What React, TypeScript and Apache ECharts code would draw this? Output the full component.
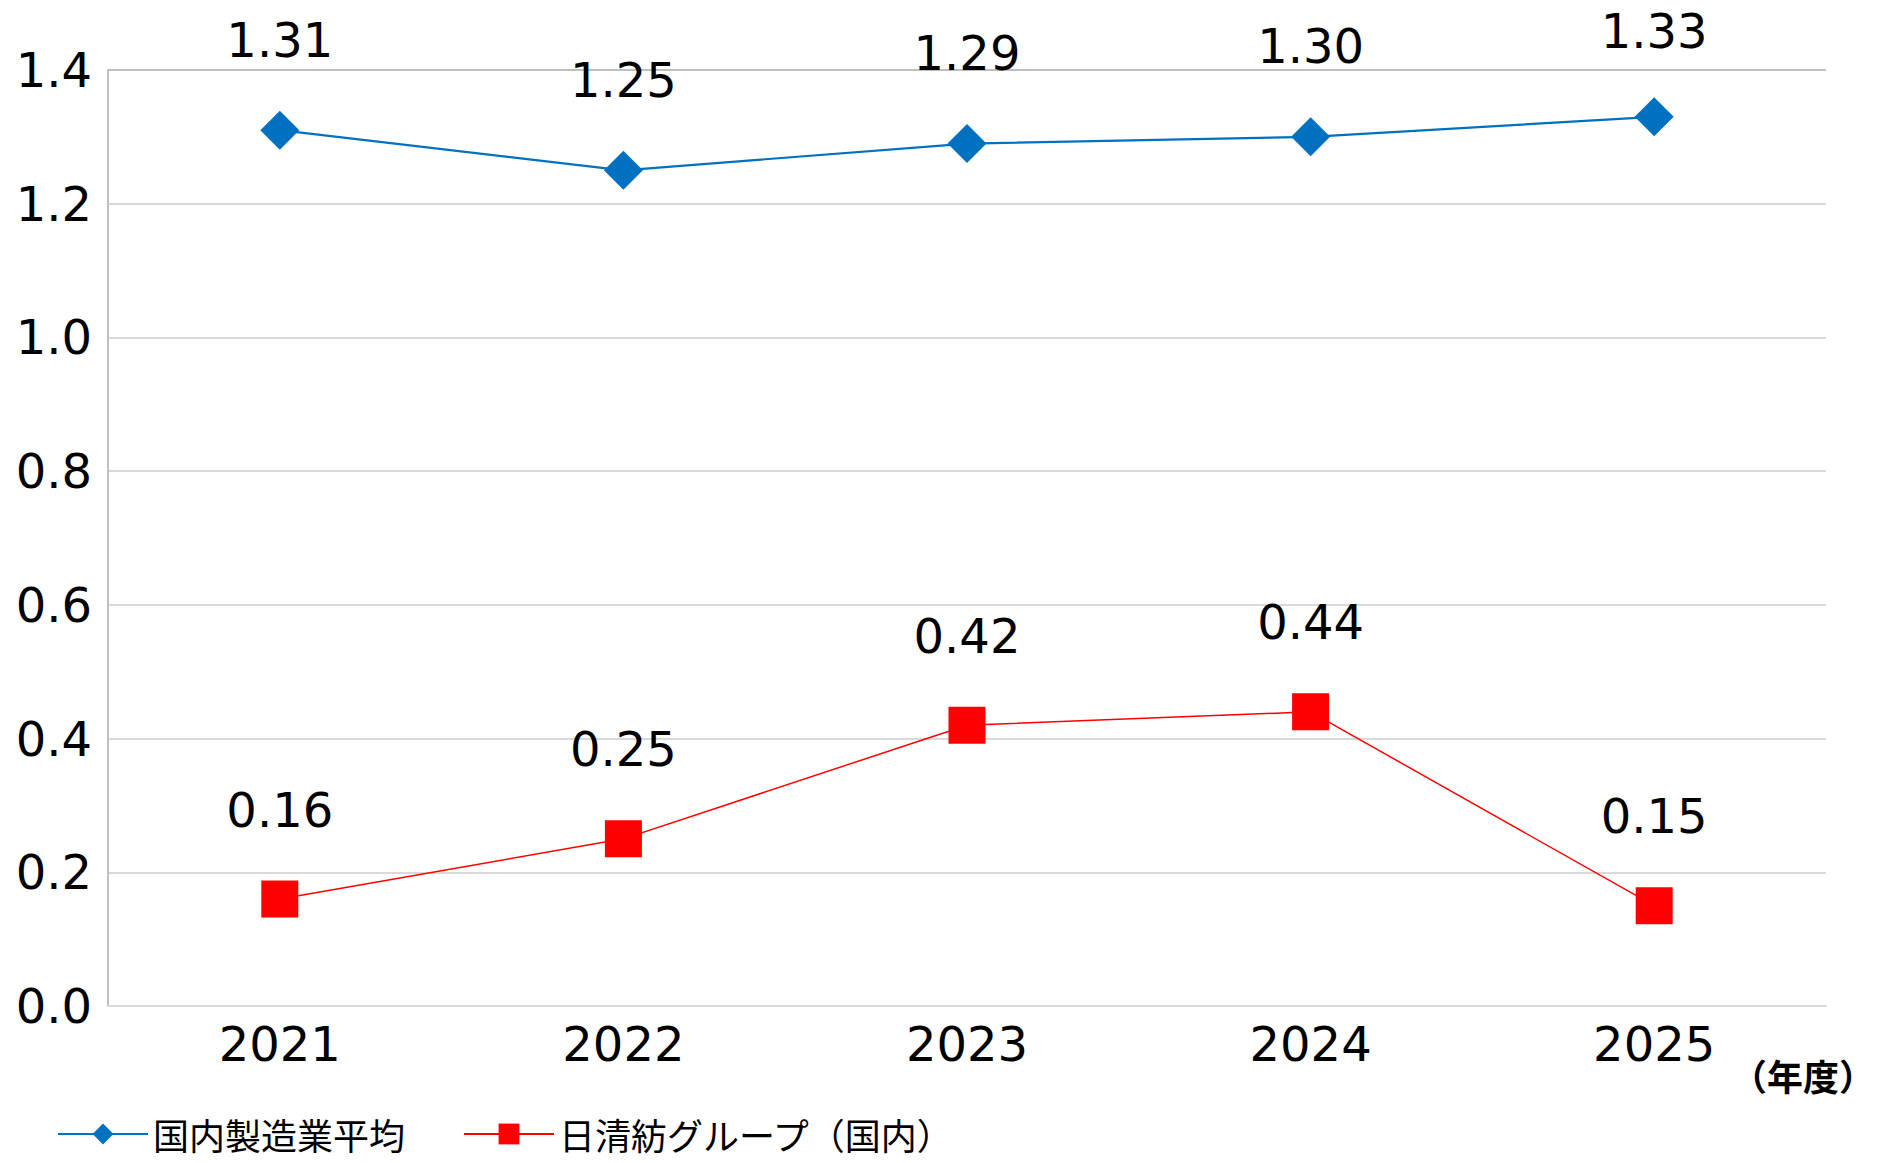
import React, { useEffect, useRef } from "react";
import * as echarts from "echarts";

const categories = ["2021", "2022", "2023", "2024", "2025"];
const domesticAvg = [1.31, 1.25, 1.29, 1.3, 1.33];
const nisshinbo = [0.16, 0.25, 0.42, 0.44, 0.15];
const seriesNames = ["国内製造業平均", "日清紡グループ（国内）"];
const unitLabel = "（年度）";

const NUM_FONT = "'DejaVu Sans', 'Noto Sans CJK JP', sans-serif";
const JP_FONT = "'Noto Sans CJK JP', 'DejaVu Sans', sans-serif";

export default function App() {
  const ref = useRef<HTMLDivElement>(null);
  useEffect(() => {
    if (!ref.current) return;
    const chart = echarts.init(ref.current, null, { renderer: "svg" });
    const maxIdx = domesticAvg.indexOf(Math.max(...domesticAvg));
    const blueData = domesticAvg.map((v, i) =>
      i === maxIdx ? { value: v, label: { distance: 46 } } : v
    );
    chart.setOption({
      animation: false,
      backgroundColor: "#ffffff",
      grid: { left: 108, top: 70, width: 1718, height: 936, containLabel: false },
      xAxis: {
        type: "category",
        data: categories,
        boundaryGap: true,
        axisLine: { show: true, lineStyle: { color: "#d9d9d9", width: 2 } },
        axisTick: { show: false },
        axisLabel: { color: "#000", fontSize: 48, fontFamily: NUM_FONT, margin: 14 },
      },
      yAxis: {
        type: "value",
        min: 0,
        max: 1.4,
        interval: 0.2,
        axisLine: { show: true, lineStyle: { color: "#bfbfbf", width: 2 } },
        axisTick: { show: false },
        axisLabel: {
          color: "#000",
          fontSize: 48,
          fontFamily: NUM_FONT,
          margin: 16,
          formatter: (v: number) => v.toFixed(1),
        },
        splitLine: {
          show: true,
          lineStyle: {
            color: ["#d9d9d9", "#d9d9d9", "#d9d9d9", "#d9d9d9", "#d9d9d9", "#d9d9d9", "#d9d9d9", "#bfbfbf"],
            width: 2,
          },
        },
      },
      legend: {
        left: 52,
        top: 1111,
        itemWidth: 90,
        itemHeight: 26,
        itemGap: 58,
        textStyle: { color: "#000", fontSize: 36, fontFamily: JP_FONT },
        data: seriesNames,
      },
      series: [
        {
          name: seriesNames[0],
          type: "line",
          data: blueData,
          symbol: "diamond",
          symbolSize: 39,
          itemStyle: { color: "#0070c0" },
          lineStyle: { color: "#0070c0", width: 2.2 },
          label: {
            show: true,
            position: "top",
            distance: 51,
            color: "#000",
            fontSize: 48,
            lineHeight: 40,
            fontFamily: NUM_FONT,
            formatter: (p: any) => Number(p.value).toFixed(2),
          },
        },
        {
          name: seriesNames[1],
          type: "line",
          data: nisshinbo,
          symbol: "rect",
          symbolSize: 37,
          itemStyle: { color: "#ff0000" },
          lineStyle: { color: "#ff0000", width: 1.5 },
          label: {
            show: true,
            position: "top",
            distance: 51,
            color: "#000",
            fontSize: 48,
            lineHeight: 40,
            fontFamily: NUM_FONT,
            formatter: (p: any) => Number(p.value).toFixed(2),
          },
        },
      ],
      graphic: [
        {
          type: "text",
          left: 1731,
          top: 1057,
          style: {
            text: unitLabel,
            fontSize: 36,
            fontWeight: "bold",
            fontFamily: JP_FONT,
            fill: "#000",
          },
        },
      ],
    });
    return () => chart.dispose();
  }, []);
  return (
    <div
      ref={ref}
      style={{ position: "absolute", left: 0, top: 0, width: 1882, height: 1163 }}
    />
  );
}
